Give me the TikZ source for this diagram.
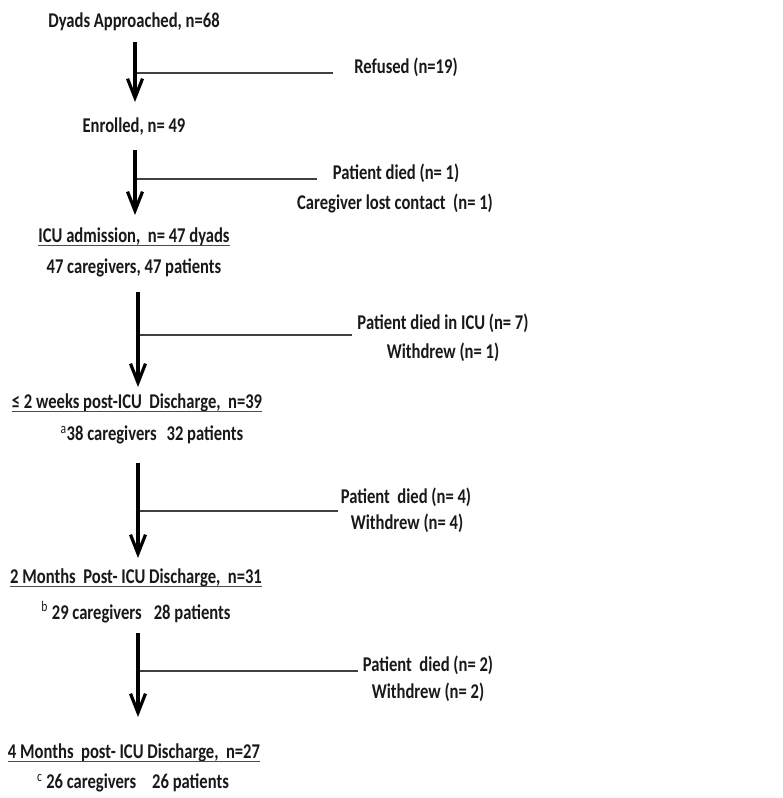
\documentclass[tikz,border=0pt]{standalone}
\usepackage{fontspec}
\setmainfont{Carlito}[FakeStretch=0.79]
\usetikzlibrary{arrows.meta}
\begin{document}
\begin{tikzpicture}[x=1pt,y=-1pt,
  txt/.style={inner sep=0pt, font=\fontsize{21}{25}\selectfont\bfseries, text=black!90},
  flow/.style={line width=3.2pt, -{Straight Barb[length=19pt,width=15pt]}},
  branch/.style={line width=1.2pt, black!75},
  uline/.style={line width=1.1pt, black!70}]
\useasboundingbox[fill=white] (0,0) rectangle (783,798);
% main stages
\node[txt] (t1) at (134,22) {Dyads Approached, n=68};
\node[txt] (t2) at (134,127) {Enrolled, n= 49};
\node[txt] (t3) at (134,237) {ICU admission,\ \ n= 47 dyads};
\node[txt] (t3b) at (134,268) {47 caregivers, 47 patients};
\node[txt] (t4) at (137,403) {≤ 2 weeks post-ICU\ \ Discharge,\ \ n=39};
\node[txt] (t4b) at (152,435) {\textsuperscript{\mdseries a}38 caregivers\hspace{10pt}32 patients};
\node[txt] (t5) at (136,578) {2 Months\ \ Post- ICU Discharge,\ \ n=31};
\node[txt] (t5b) at (136,612) {\textsuperscript{\mdseries b} 29 caregivers\hspace{12pt}28 patients};
\node[txt] (t6) at (134,753) {4 Months\ \ post- ICU Discharge,\ \ n=27};
\node[txt] (t6b) at (133,783) {\textsuperscript{\mdseries c} 26 caregivers\hspace{16pt}26 patients};
% underlines
\foreach \n in {t3,t4,t5,t6}
  \draw[uline] ([yshift=-2.5pt]\n.base west) -- ([yshift=-2.5pt]\n.base east);
% side labels
\node[txt] (s1) at (406,67) {Refused\ (n=19)};
\node[txt] (s2) at (396,173) {Patient died (n= 1)};
\node[txt] (s2b) at (395,203) {Caregiver lost contact\ \ (n= 1)};
\node[txt] (s3) at (443,323) {Patient died in ICU (n= 7)};
\node[txt] (s3b) at (443,352) {Withdrew (n= 1)};
\node[txt] (s4) at (406,497) {Patient\ \ died (n= 4)};
\node[txt] (s4b) at (407,523) {Withdrew (n= 4)};
\node[txt] (s5) at (428,665) {Patient\ \ died (n= 2)};
\node[txt] (s5b) at (428,692) {Withdrew (n= 2)};
% arrow end points
\coordinate (a1s) at (135,42);  \coordinate (a1e) at (135,102);
\coordinate (a2s) at (135,150); \coordinate (a2e) at (135,215);
\coordinate (a3s) at (138,292); \coordinate (a3e) at (138,387);
\coordinate (a4s) at (138,463); \coordinate (a4e) at (138,558);
\coordinate (a5s) at (138,633); \coordinate (a5e) at (138,717);
% branch points
\coordinate (b1s) at (135,73);  \coordinate (b1e) at (333,73);
\coordinate (b2s) at (135,179); \coordinate (b2e) at (317,179);
\coordinate (b3s) at (138,335); \coordinate (b3e) at (352,335);
\coordinate (b4s) at (138,511); \coordinate (b4e) at (338,511);
\coordinate (b5s) at (138,671); \coordinate (b5e) at (358,671);
\foreach \i in {1,...,5}{
  \draw[branch] (b\i s) -- (b\i e);
  \draw[flow] (a\i s) -- (a\i e);
}
\end{tikzpicture}
\end{document}
